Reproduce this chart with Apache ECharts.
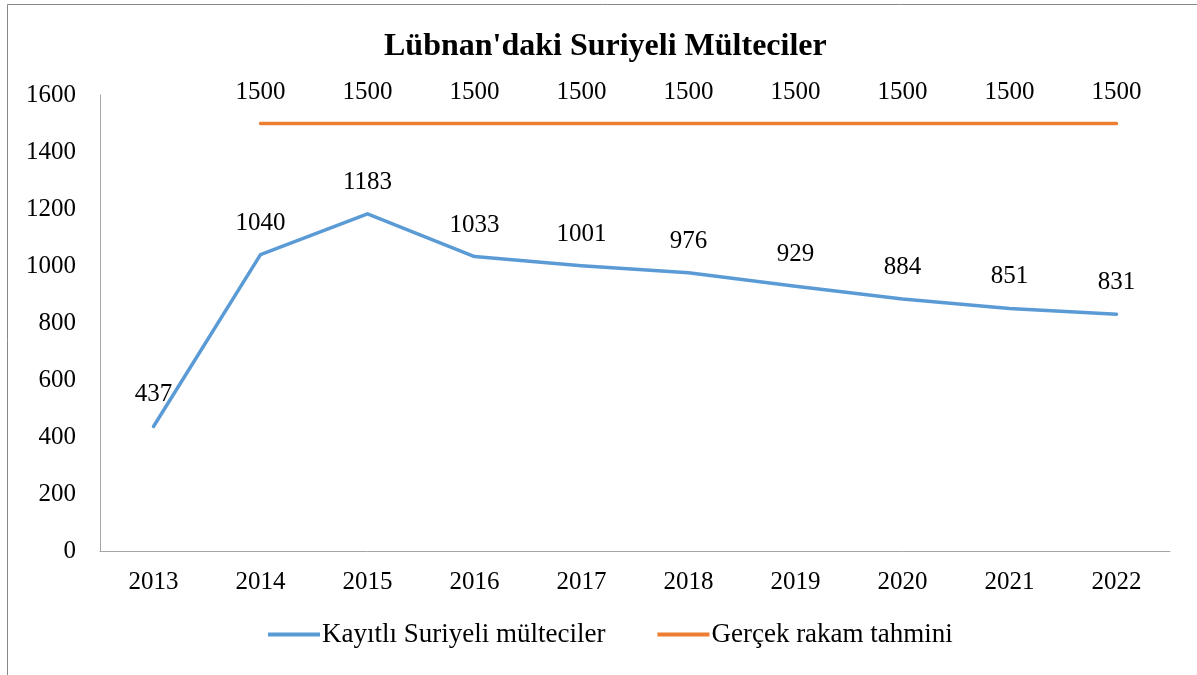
<!DOCTYPE html>
<html>
<head>
<meta charset="utf-8">
<script src="https://cdn.jsdelivr.net/npm/echarts@6/dist/echarts.min.js"></script>
<style>
  html, body { margin: 0; padding: 0; background: #fff; }
  #main { width: 1197px; height: 675px; }
</style>
</head>
<body>
<div id="main"></div>
<script>
// yıllar ve seriler
var years = ['2013', '2014', '2015', '2016', '2017', '2018', '2019', '2020', '2021', '2022'];
var kayitli = [437, 1040, 1183, 1033, 1001, 976, 929, 884, 851, 831];
var tahmin = [null, 1500, 1500, 1500, 1500, 1500, 1500, 1500, 1500, 1500];
var seriesNames = ['Kayıtlı Suriyeli mülteciler', 'Gerçek rakam tahmini'];

var font = '"Liberation Serif", "Times New Roman", serif';
var chart = echarts.init(document.getElementById('main'));

var labelStyle = {
  show: true,
  position: 'top',
  distance: 19,
  fontFamily: font,
  fontSize: 25,
  color: '#000'
};

var option = {
  backgroundColor: '#fff',
  animation: false,
  graphic: [{
    type: 'rect',
    shape: { x: 7.5, y: 4.5, width: 1200, height: 700 },
    style: { fill: 'none', stroke: '#888', lineWidth: 1 },
    silent: true
  }],
  title: {
    text: "Lübnan'daki Suriyeli Mülteciler",
    left: 379,
    top: 26,
    textStyle: { fontFamily: font, fontSize: 32, fontWeight: 'bold', color: '#000' }
  },
  legend: {
    bottom: 22,
    left: 263,
    icon: 'rect',
    itemWidth: 52,
    itemHeight: 4,
    itemGap: 52,
    textStyle: { fontFamily: font, fontSize: 27, color: '#000', padding: [0, 0, 0, -3] },
    data: seriesNames
  },
  grid: { left: 100, right: 27, top: 95, bottom: 124 },
  xAxis: {
    type: 'category',
    data: years,
    boundaryGap: true,
    axisLine: { lineStyle: { color: '#a6a6a6', width: 1 } },
    axisTick: { show: false },
    axisLabel: { fontFamily: font, fontSize: 25, color: '#000', margin: 19 }
  },
  yAxis: {
    type: 'value',
    min: 0,
    max: 1600,
    interval: 200,
    axisLine: { show: true, lineStyle: { color: '#a6a6a6', width: 1 } },
    axisTick: { show: false },
    splitLine: { show: false },
    axisLabel: {
      fontFamily: font, fontSize: 25, color: '#000', margin: 24,
      formatter: function (v) { return String(v); }
    }
  },
  series: [
    {
      name: seriesNames[0],
      type: 'line',
      data: kayitli,
      symbol: 'circle',
      symbolSize: 0.1,
      showSymbol: true,
      lineStyle: { color: '#5b9bd5', width: 3.5, cap: 'round', join: 'round' },
      itemStyle: { color: '#5b9bd5' },
      label: labelStyle
    },
    {
      name: seriesNames[1],
      type: 'line',
      data: tahmin,
      symbol: 'circle',
      symbolSize: 0.1,
      showSymbol: true,
      lineStyle: { color: '#ed7d31', width: 3.5, cap: 'round' },
      itemStyle: { color: '#ed7d31' },
      label: labelStyle
    }
  ]
};

chart.setOption(option);
</script>
</body>
</html>
